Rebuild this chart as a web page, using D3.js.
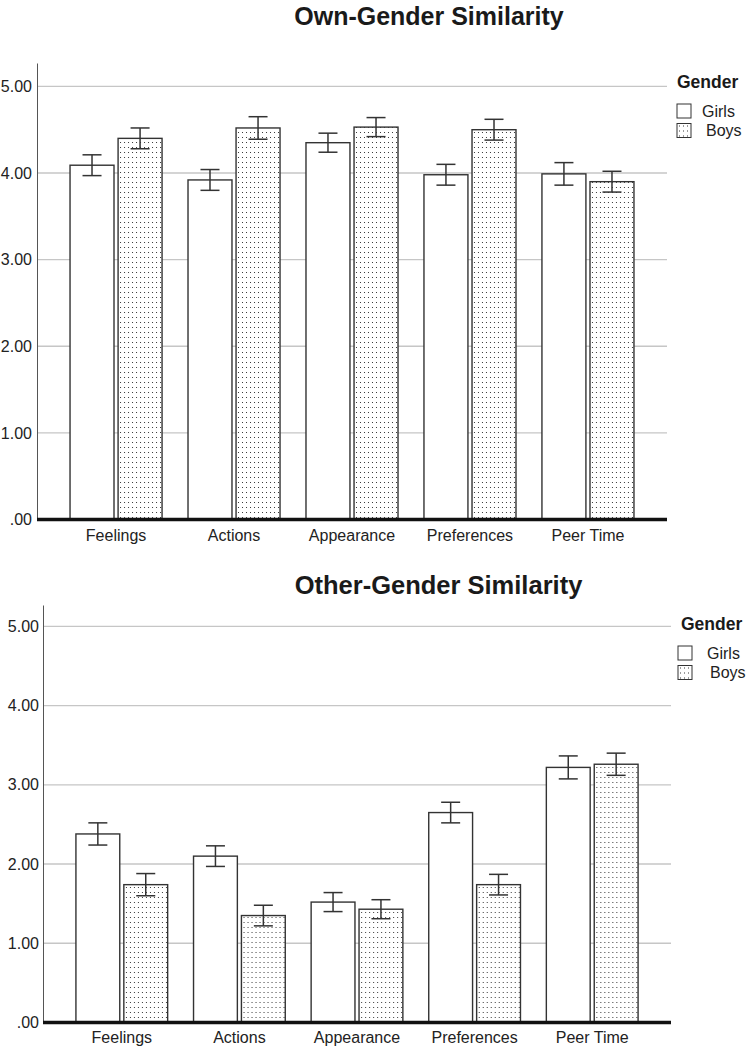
<!DOCTYPE html>
<html>
<head>
<meta charset="utf-8">
<script src="https://cdn.jsdelivr.net/npm/d3@7/dist/d3.min.js"></script>
<style>
  html, body { margin: 0; padding: 0; background: #fff; }
  svg { display: block; font-family: "Liberation Sans", Arial, sans-serif; }
</style>
</head>
<body>
<svg id="chart" width="752" height="1048"></svg>
<script>
// ---------------- DATA ----------------
const categories = ["Feelings", "Actions", "Appearance", "Preferences", "Peer Time"];
const seriesNames = ["Girls", "Boys"];
const tickValues = [0, 1, 2, 3, 4, 5];
const tickLabels = [".00", "1.00", "2.00", "3.00", "4.00", "5.00"];

// Own-Gender Similarity
const ownGirls    = [4.09, 3.92, 4.35, 3.98, 3.99];
const ownGirlsErr = [0.12, 0.12, 0.11, 0.12, 0.13];
const ownBoys     = [4.40, 4.52, 4.53, 4.50, 3.90];
const ownBoysErr  = [0.12, 0.13, 0.11, 0.12, 0.12];

// Other-Gender Similarity
const otherGirls    = [2.38, 2.10, 1.52, 2.65, 3.22];
const otherGirlsErr = [0.14, 0.13, 0.12, 0.13, 0.145];
const otherBoys     = [1.74, 1.35, 1.43, 1.74, 3.26];
const otherBoysErr  = [0.14, 0.13, 0.12, 0.13, 0.14];

// ---------------- DRAW ----------------
const svg = d3.select("#chart");
const defs = svg.append("defs");
const pat = defs.append("pattern")
  .attr("id", "dots").attr("patternUnits", "userSpaceOnUse")
  .attr("width", 4).attr("height", 5);
pat.append("rect").attr("width", 4).attr("height", 5).attr("fill", "#fff");
pat.append("rect").attr("x", 2).attr("y", 2).attr("width", 1).attr("height", 1).attr("fill", "#3a3a3a");

const fills = { Girls: "#fff", Boys: "url(#dots)" };

function drawChart(cfg) {
  const g = svg.append("g");
  const rows = categories.map((c, i) => ({
    cat: c,
    vals: [
      { s: "Girls", v: cfg.girls[i], e: cfg.girlsErr[i] },
      { s: "Boys",  v: cfg.boys[i],  e: cfg.boysErr[i] }
    ]
  }));

  const x0 = d3.scaleBand().domain(categories)
    .range([cfg.left, cfg.right]).paddingInner(0.22).paddingOuter(0.28);
  const x1 = d3.scaleBand().domain(seriesNames)
    .range([0, x0.bandwidth()]).paddingInner(0.085);
  const y = d3.scaleLinear().domain([0, 5.27]).range([cfg.bottom, cfg.top]);

  // title
  g.append("text").attr("x", cfg.titleX).attr("y", cfg.titleY)
    .attr("text-anchor", "middle").attr("font-weight", "bold")
    .attr("font-size", cfg.titleSize).attr("fill", "#1a1a1a").text(cfg.title);

  // grid lines
  g.append("g").selectAll("line").data(tickValues.filter(t => t > 0)).join("line")
    .attr("x1", cfg.left).attr("x2", cfg.right)
    .attr("y1", d => y(d)).attr("y2", d => y(d))
    .attr("stroke", "#c6c6c6").attr("stroke-width", 1.4);

  // y axis
  const yAxis = d3.axisLeft(y).tickValues(tickValues)
    .tickFormat((d, i) => tickLabels[i]).tickSize(0).tickPadding(cfg.yPad);
  const ya = g.append("g").attr("transform", `translate(${cfg.left},0)`).call(yAxis);
  ya.select(".domain").attr("stroke", "#555").attr("stroke-width", 1);
  ya.selectAll("text").attr("font-size", 16).attr("fill", "#222")
    .attr("font-family", "'Liberation Sans', Arial, sans-serif");

  // bars
  const grp = g.append("g").selectAll("g").data(rows).join("g")
    .attr("transform", d => `translate(${x0(d.cat)},0)`);
  grp.selectAll("rect").data(d => d.vals).join("rect")
    .attr("x", d => x1(d.s)).attr("width", x1.bandwidth())
    .attr("y", d => y(d.v)).attr("height", d => y(0) - y(d.v))
    .attr("fill", d => fills[d.s]).attr("stroke", "#333").attr("stroke-width", 1.4);

  // error bars
  const eb = grp.selectAll("g.err").data(d => d.vals).join("g").attr("class", "err");
  const cap = 9.5;
  eb.append("line")
    .attr("x1", d => x1(d.s) + x1.bandwidth() / 2).attr("x2", d => x1(d.s) + x1.bandwidth() / 2)
    .attr("y1", d => y(d.v + d.e)).attr("y2", d => y(d.v - d.e));
  eb.append("line")
    .attr("x1", d => x1(d.s) + x1.bandwidth() / 2 - cap).attr("x2", d => x1(d.s) + x1.bandwidth() / 2 + cap)
    .attr("y1", d => y(d.v + d.e)).attr("y2", d => y(d.v + d.e));
  eb.append("line")
    .attr("x1", d => x1(d.s) + x1.bandwidth() / 2 - cap).attr("x2", d => x1(d.s) + x1.bandwidth() / 2 + cap)
    .attr("y1", d => y(d.v - d.e)).attr("y2", d => y(d.v - d.e));
  eb.selectAll("line").attr("stroke", "#333").attr("stroke-width", 1.5);

  // x axis
  const xAxis = d3.axisBottom(x0).tickSize(0).tickPadding(cfg.xPad);
  const xa = g.append("g").attr("transform", `translate(0,${y(0)})`).call(xAxis);
  xa.select(".domain").remove();
  xa.selectAll("text").attr("font-size", 16).attr("fill", "#222")
    .attr("font-family", "'Liberation Sans', Arial, sans-serif");
  g.append("line").attr("x1", cfg.left).attr("x2", cfg.right)
    .attr("y1", y(0)).attr("y2", y(0)).attr("stroke", "#111").attr("stroke-width", 3.5);

  // legend
  const lg = g.append("g");
  lg.append("text").attr("x", cfg.legX).attr("y", cfg.legY)
    .attr("font-weight", "bold").attr("font-size", 17.5).attr("fill", "#1a1a1a").text("Gender");
  const items = lg.selectAll("g.item").data(seriesNames).join("g").attr("class", "item")
    .attr("transform", (d, i) => `translate(${cfg.legX + (cfg.swatchDX || 0)},${cfg.legY + 16 + i * 19.5})`);
  items.append("rect").attr("width", 14).attr("height", 14)
    .attr("fill", d => fills[d]).attr("stroke", "#333").attr("stroke-width", 1);
  items.append("text").attr("x", (d, i) => cfg.legTextX[i]).attr("y", 12.5)
    .attr("font-size", 16).attr("fill", "#222").text(d => d);
}

drawChart({
  title: "Own-Gender Similarity", titleX: 429, titleY: 25, titleSize: 25,
  girls: ownGirls, girlsErr: ownGirlsErr, boys: ownBoys, boysErr: ownBoysErr,
  left: 37, right: 667, top: 63, bottom: 519.5, yPad: 5, xPad: 10.5,
  legX: 677, legY: 88, legTextX: [25, 29]
});
drawChart({
  title: "Other-Gender Similarity", titleX: 438.5, titleY: 594, titleSize: 25.5,
  girls: otherGirls, girlsErr: otherGirlsErr, boys: otherBoys, boysErr: otherBoysErr,
  left: 43, right: 671, top: 605, bottom: 1022.5, yPad: 4, xPad: 9.5,
  legX: 681, legY: 630, swatchDX: -3, legTextX: [29, 32]
});
</script>
</body>
</html>
